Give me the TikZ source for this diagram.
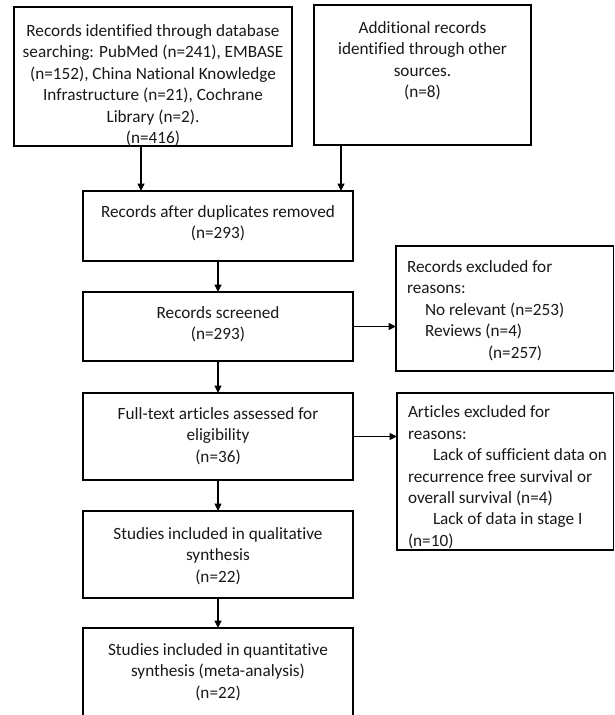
\documentclass[tikz,border=0pt]{standalone}
\usepackage{fontspec}
\setmainfont[Ligatures=NoCommon]{Carlito}
\usetikzlibrary{arrows.meta}
\begin{document}
\begin{tikzpicture}[x=1pt,y=-1pt,
  box/.style={draw=black, line width=1.3pt, fill=none, inner sep=0pt, outer sep=0pt},
  txt/.style={inner sep=0pt, outer sep=0pt, align=center, text=black!90,
    font=\fontsize{17.2}{21.4}\selectfont},
  ltxt/.style={inner sep=0pt, outer sep=0pt, align=left, text=black!90,
    font=\fontsize{17.2}{21.4}\selectfont},
  arr/.style={draw=black, line width=1.3pt, -{Triangle[length=7.5pt,width=7pt]}}]
\useasboundingbox (0,0) rectangle (615,715);
\fill[white] (0,0) rectangle (615,715);
\begin{scope}
\clip (0,0) rectangle (615,715);
% boxes
\node[box, minimum width=278pt, minimum height=139pt] (A) at (153,76.5) {};
\node[box, minimum width=217pt, minimum height=140pt] (B) at (422.5,75) {};
\node[box, minimum width=270pt, minimum height=70pt] (C) at (218,226) {};
\node[box, minimum width=270pt, minimum height=69pt] (D) at (218,326.5) {};
\node[box, minimum width=217.5pt, minimum height=125pt] (E) at (504.75,308.5) {};
\node[box, minimum width=270pt, minimum height=87pt] (F) at (218,436.5) {};
\node[box, minimum width=216.5pt, minimum height=157pt] (G) at (505.25,471.5) {};
\node[box, minimum width=270pt, minimum height=87pt] (H) at (218,554.5) {};
\node[box, minimum width=270pt, minimum height=102pt] (I) at (218,679) {};
% texts
\node[txt, anchor=north] (At) at ([yshift=-17.5pt]A.north) {Records identified through database\\searching: PubMed (n=241), EMBASE\\(n=152), China National Knowledge\\Infrastructure (n=21), Cochrane\\Library (n=2).\\(n=416)};
\node[txt, anchor=north] (Bt) at ([yshift=-16.5pt]B.north) {Additional records\\identified through other\\sources.\\(n=8)};
\node[txt, anchor=north] (Ct) at ([yshift=-14.5pt]C.north) {Records after duplicates removed\\(n=293)};
\node[txt, anchor=north] (Dt) at ([yshift=-14.5pt]D.north) {Records screened\\(n=293)};
\node[ltxt, anchor=north west] (Et) at ([xshift=11pt,yshift=-14.5pt]E.north west) {Records excluded for\\reasons:\\\hspace*{18pt}No relevant (n=253)\\\hspace*{18pt}Reviews (n=4)\\\hspace*{81pt}(n=257)};
\node[ltxt, anchor=north west] (Gt) at ([xshift=11pt,yshift=-13pt]G.north west) {Articles excluded for\\reasons:\\\hspace*{25pt}Lack of sufficient data on\\recurrence free survival or\\overall survival (n=4)\\\hspace*{25pt}Lack of data in stage I\\(n=10)};
\node[txt, anchor=north] (Ft) at ([yshift=-14.5pt]F.north) {Full-text articles assessed for\\eligibility\\(n=36)};
\node[txt, anchor=north] (Ht) at ([yshift=-16.5pt]H.north) {Studies included in qualitative\\synthesis\\(n=22)};
\node[txt, anchor=north] (It) at ([yshift=-15.5pt]I.north) {Studies included in quantitative\\synthesis (meta-analysis)\\(n=22)};
% connectors
\draw[arr] ([xshift=-12pt]A.south) -- ([xshift=-12pt]A.south |- C.north);
\draw[arr] ([xshift=-81.5pt]B.south) -- ([xshift=-81.5pt]B.south |- C.north);
\draw[arr] (C.south) -- (D.north);
\draw[arr] (D.east) -- (D.east -| E.west);
\draw[arr] (D.south) -- (F.north);
\draw[arr] (F.east) -- (F.east -| G.west);
\draw[arr] (F.south) -- (H.north);
\draw[arr] (H.south) -- (I.north);
\end{scope}
\end{tikzpicture}
\end{document}
